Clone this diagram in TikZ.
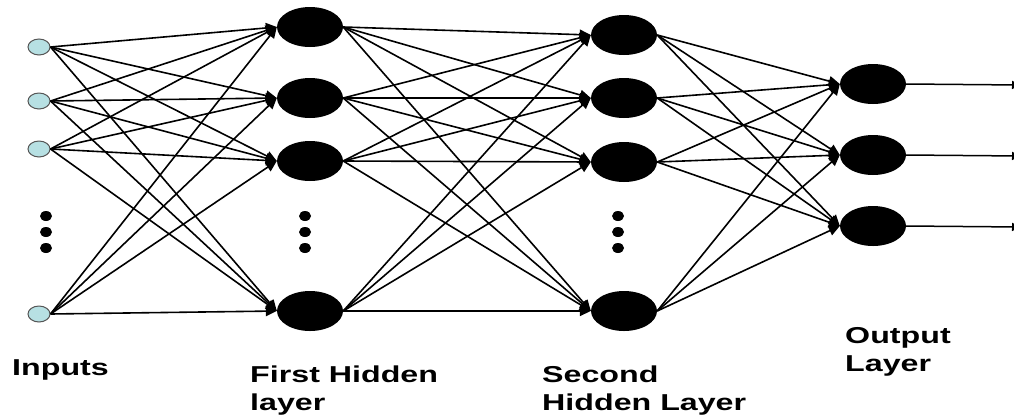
\documentclass[tikz,border=0pt]{standalone}
\usepackage{fontspec}
\setmainfont{Liberation Sans}
\usepackage{graphicx}
\usetikzlibrary{arrows.meta,shapes.geometric}
\definecolor{inblue}{HTML}{B7E0E3}
\definecolor{ingray}{HTML}{555555}
\tikzset{
  inp/.style={ellipse,draw=ingray,line width=1pt,fill=inblue,minimum width=22pt,minimum height=16pt,inner sep=0pt},
  neur/.style={ellipse,fill=black,minimum width=66pt,minimum height=40pt,inner sep=0pt},
  dotn/.style={ellipse,fill=black,minimum width=12pt,minimum height=10pt,inner sep=0pt},
  conn/.style={line width=1.6pt,-{Triangle[length=11pt,width=10pt]}},
  outl/.style={line width=1.5pt,-{Triangle[length=9pt,width=8pt]}},
  lab/.style={anchor=base west,inner sep=0pt,font=\bfseries\fontsize{23}{28}\selectfont}
}
\newcommand{\twolab}[1]{\scalebox{1.4}[1]{\begin{tabular}[t]{@{}l@{}}#1\end{tabular}}}
\begin{document}
\begin{tikzpicture}[x=1pt,y=-1pt]
\useasboundingbox (0,0) rectangle (1014,416);
% inputs
\node[inp] (i1) at (39,47) {};
\node[inp] (i2) at (39,101) {};
\node[inp] (i3) at (39,149) {};
\node[inp] (i4) at (39,314) {};
% first hidden
\node[neur] (h1) at (310,27) {};
\node[neur] (h2) at (310,98) {};
\node[neur] (h3) at (310,161) {};
\node[neur] (h4) at (310,311) {};
% second hidden
\node[neur] (g1) at (624,35) {};
\node[neur] (g2) at (624,98) {};
\node[neur] (g3) at (624,162) {};
\node[neur] (g4) at (624,311) {};
% outputs
\node[neur] (o1) at (873,84) {};
\node[neur] (o2) at (873,155) {};
\node[neur] (o3) at (873,226) {};
% dots
\foreach \x/\n in {46/a,305/b,618/c}{
  \node[dotn] (\n1) at (\x,216) {};
  \node[dotn] (\n2) at (\x,232) {};
  \node[dotn] (\n3) at (\x,248) {};
}
% connections
\foreach \s in {i1,i2,i3,i4}{
  \foreach \t in {h1,h2,h3,h4}{
    \draw[conn] (\s.east) -- (\t.west);
  }
}
\foreach \s in {h1,h2,h3,h4}{
  \foreach \t in {g1,g2,g3,g4}{
    \draw[conn] (\s.east) -- (\t.west);
  }
}
\foreach \s in {g1,g2,g3,g4}{
  \foreach \t in {o1,o2,o3}{
    \draw[conn] (\s.east) -- (\t.west);
  }
}
\coordinate (e1) at (1021,85);
\coordinate (e2) at (1021,156);
\coordinate (e3) at (1021,227);
\draw[outl] (o1.east) -- (e1);
\draw[outl] (o2.east) -- (e2);
\draw[outl] (o3.east) -- (e3);
% labels
\node[lab] (l1) at (12,375) {\twolab{Inputs}};
\node[lab] (l2) at (250,382) {\twolab{First Hidden\\layer}};
\node[lab] (l3) at (542,382) {\twolab{Second\\Hidden Layer}};
\node[lab] (l4) at (845,343) {\twolab{Output\\Layer}};
\end{tikzpicture}
\end{document}
